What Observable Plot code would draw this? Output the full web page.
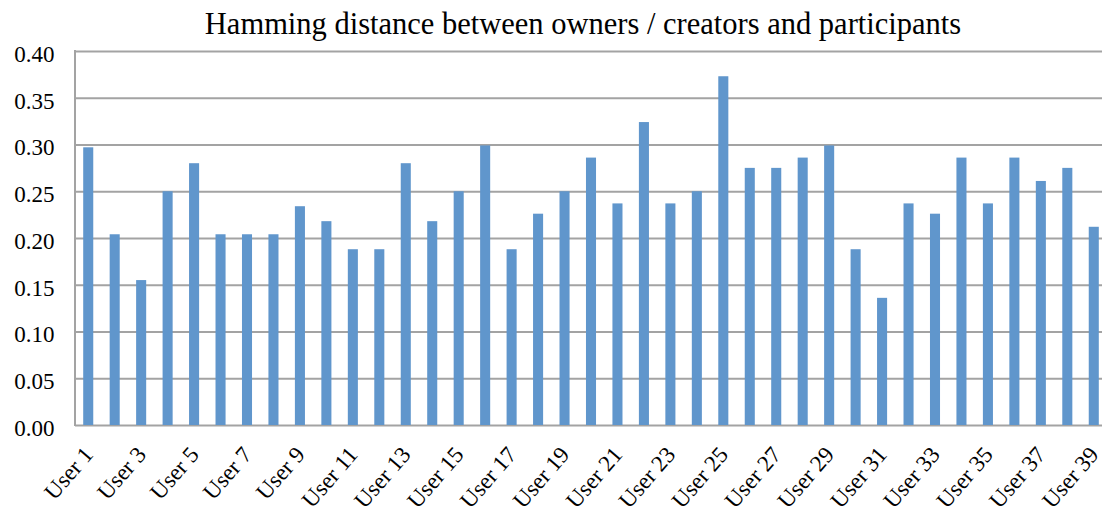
<!DOCTYPE html>
<html>
<head>
<meta charset="utf-8">
<script src="https://cdn.jsdelivr.net/npm/d3@7"></script>
<script src="https://cdn.jsdelivr.net/npm/@observablehq/plot@0.6"></script>
<style>
  html, body { margin: 0; padding: 0; background: #fff; overflow: hidden; }
  #title {
    width: 1102px; height: 40px; box-sizing: border-box;
    padding-left: 64px; text-align: center; white-space: nowrap;
    font-family: "Liberation Serif", "Times New Roman", serif;
    font-size: 30.5px; line-height: 49px; color: #000;
  }
</style>
</head>
<body>
<div id="title">Hamming distance between owners / creators and participants</div>
<div id="chart"></div>
<script>
const users = Array.from({length: 39}, (_, i) => `User ${i + 1}`);
const values = [
  0.297, 0.204, 0.155, 0.250, 0.280, 0.204, 0.204, 0.204, 0.234, 0.218,
  0.188, 0.188, 0.280, 0.218, 0.250, 0.299, 0.188, 0.226, 0.250, 0.286,
  0.237, 0.324, 0.237, 0.250, 0.373, 0.275, 0.275, 0.286, 0.299, 0.188,
  0.136, 0.237, 0.226, 0.286, 0.237, 0.286, 0.261, 0.275, 0.212
];
const xTickLabels = users.filter((_, i) => i % 2 === 0);
const yTicks = [0, 0.05, 0.10, 0.15, 0.20, 0.25, 0.30, 0.35, 0.40];

const data = users.map((u, i) => ({user: u, value: values[i]}));
const gridColor = "#a3a3a3";

const leftLine = (index, scales, values, dims) => {
  const g = d3.create("svg:line")
    .attr("x1", dims.marginLeft).attr("x2", dims.marginLeft)
    .attr("y1", scales.y(0) + 1).attr("y2", scales.y(0.40) - 1)
    .attr("stroke", gridColor).attr("stroke-width", 2);
  return g.node();
};

const chart = Plot.plot({
  width: 1102,
  height: 482,
  marginLeft: 75,
  marginRight: -5,
  marginTop: 11,
  marginBottom: 97,
  style: {fontFamily: "'Liberation Serif', 'Times New Roman', serif", fontSize: "23px", color: "#000", overflow: "visible"},
  x: {domain: users, paddingInner: 0.62, paddingOuter: 0.31, round: false, label: null},
  y: {domain: [0, 0.40], label: null},
  marks: [
    Plot.gridY(yTicks, {stroke: gridColor, strokeOpacity: 1, strokeWidth: 2}),
    leftLine,
    Plot.barY(data, {x: "user", y: "value", fill: "#6096cc"}),
    Plot.axisY(yTicks, {tickSize: 0, tickPadding: 21, tickFormat: d3.format(".2f"), fontSize: 23, label: null, dy: 3}),
    Plot.axisX(xTickLabels, {tickSize: 0, tickRotate: -49, tickPadding: 25, dx: 0, fontSize: 23, label: null})
  ]
});
document.getElementById("chart").appendChild(chart);
</script>
</body>
</html>
